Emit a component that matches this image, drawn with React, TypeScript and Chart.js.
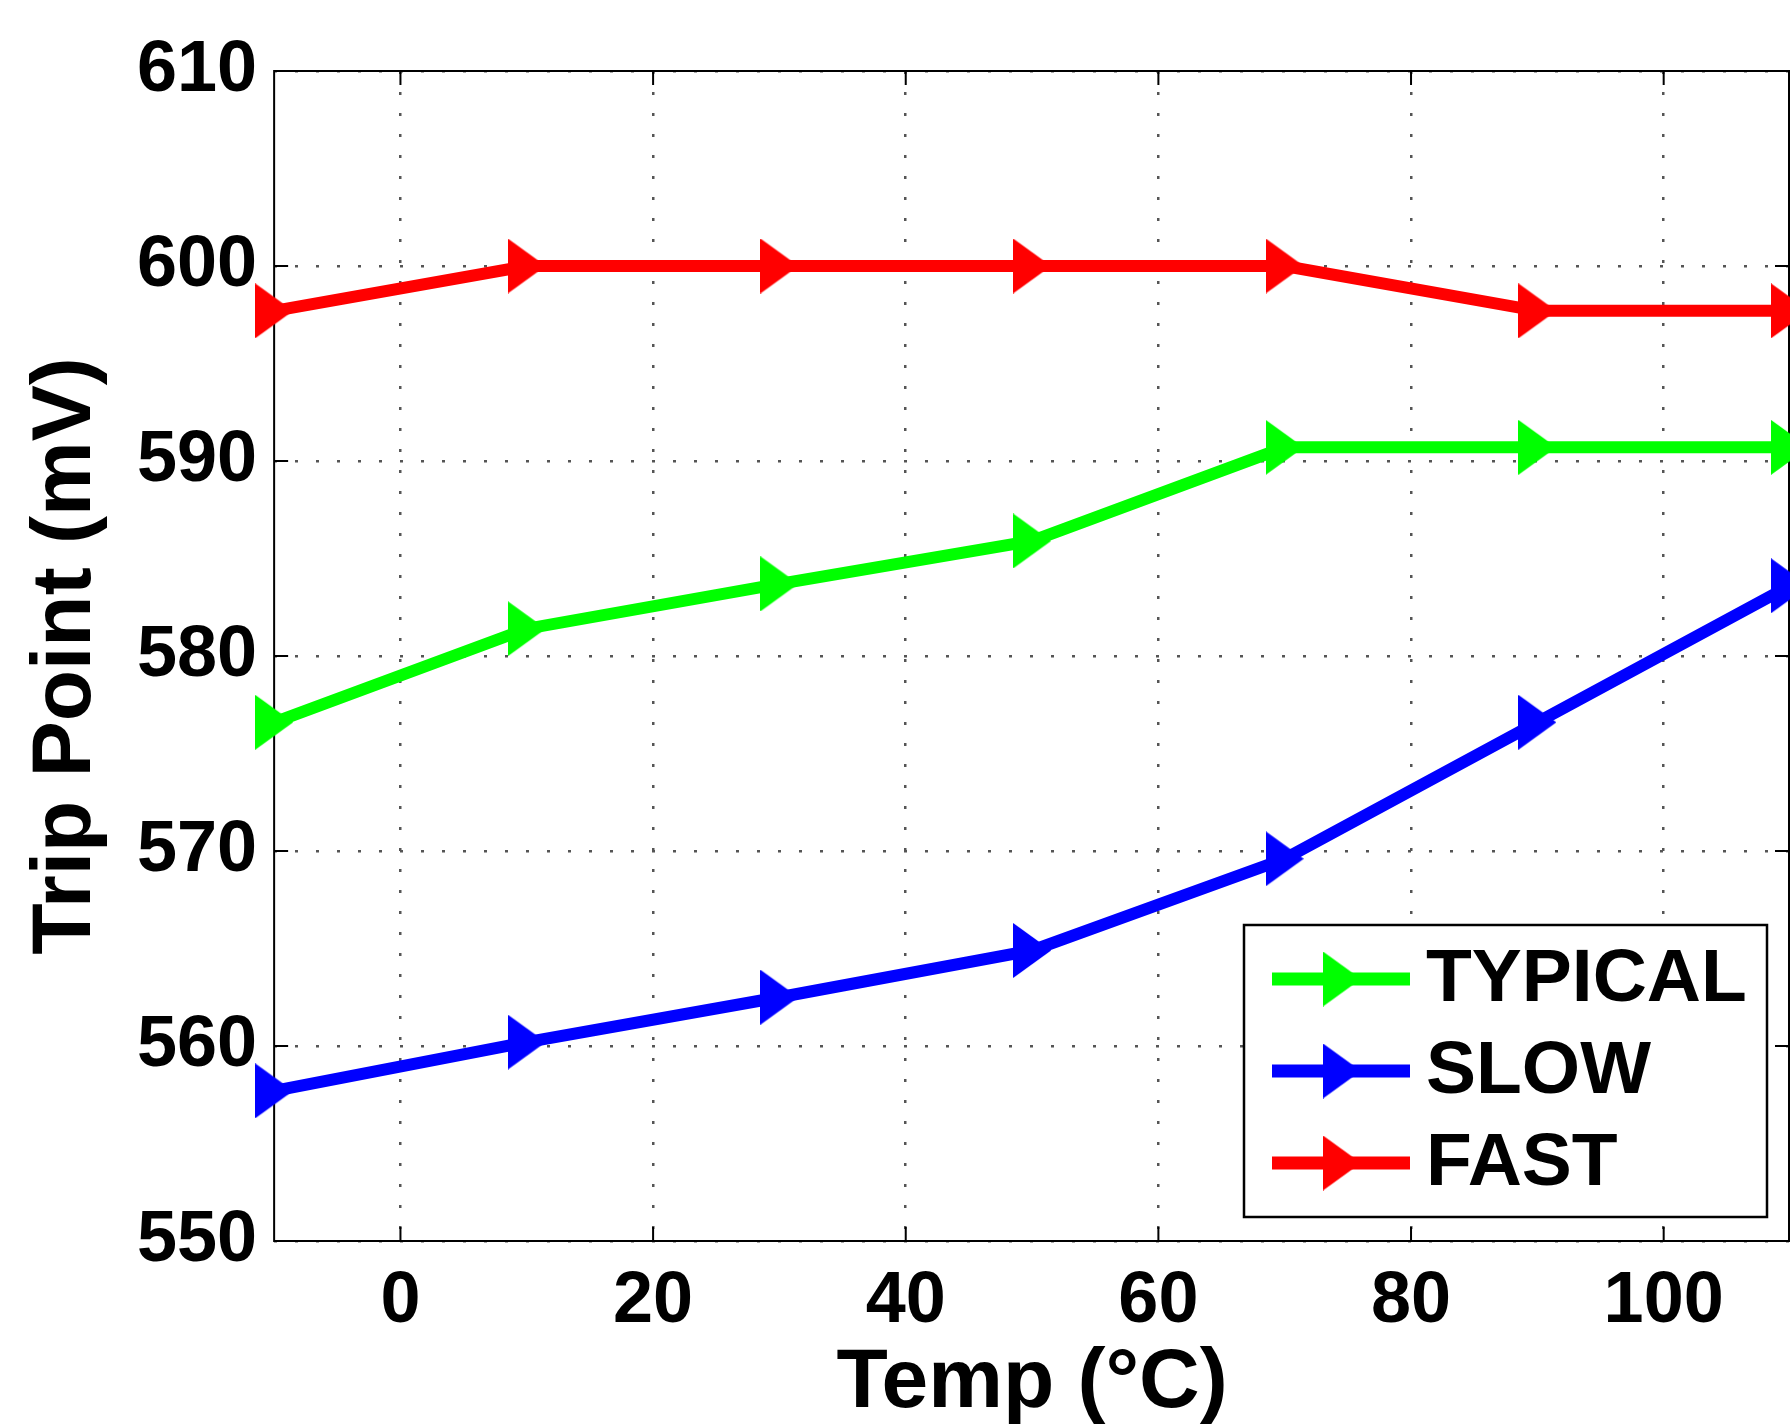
import { useEffect, useRef } from 'react';
import { Chart, registerables } from 'chart.js';

Chart.register(...registerables);

// ---- data ----
const temps = [-10, 10, 30, 50, 70, 90, 110];
const typicalMv = [576.6, 581.4, 583.7, 585.9, 590.7, 590.7, 590.7];
const slowMv = [557.7, 560.2, 562.5, 564.9, 569.6, 576.6, 583.6];
const fastMv = [597.7, 600.0, 600.0, 600.0, 600.0, 597.7, 597.7];
const seriesNames = ['TYPICAL', 'SLOW', 'FAST'];
const seriesColors = ['#00ff00', '#0000ff', '#ff0000'];
const xTickValues = [0, 20, 40, 60, 80, 100];
const yTickValues = [550, 560, 570, 580, 590, 600, 610];
const xTitle = 'Temp (\u00B0C)';
const yTitle = 'Trip Point (mV)';

const FONT = '"Liberation Sans", Arial, Helvetica, sans-serif';

function makeMarker(color: string, w = 38, h = 55): HTMLCanvasElement {
  const c = document.createElement('canvas');
  c.width = w;
  c.height = h;
  const g = c.getContext('2d')!;
  g.fillStyle = color;
  g.beginPath();
  g.moveTo(0, 0);
  g.lineTo(w, h / 2);
  g.lineTo(0, h);
  g.closePath();
  g.fill();
  return c;
}

const boxPlugin = {
  id: 'matlabBox',
  beforeDatasetsDraw(chart: any) {
    const { ctx, chartArea: a, scales } = chart;
    const right = a.right - 1;
    ctx.save();
    ctx.strokeStyle = '#000';
    ctx.lineWidth = 2;
    ctx.setLineDash([]);
    ctx.strokeRect(a.left, a.top, right - a.left, a.bottom - a.top);
    const tl = 14;
    ctx.beginPath();
    for (const v of xTickValues) {
      const px = scales.x.getPixelForValue(v);
      ctx.moveTo(px, a.bottom);
      ctx.lineTo(px, a.bottom - tl);
      ctx.moveTo(px, a.top);
      ctx.lineTo(px, a.top + tl);
    }
    for (const v of yTickValues) {
      const py = scales.y.getPixelForValue(v);
      ctx.moveTo(a.left, py);
      ctx.lineTo(a.left + tl, py);
      ctx.moveTo(right, py);
      ctx.lineTo(right - tl, py);
    }
    ctx.stroke();
    ctx.restore();
  },
};

const legendPlugin = {
  id: 'insideLegend',
  afterDraw(chart: any) {
    const { ctx, chartArea: a } = chart;
    const w = 523;
    const h = 292;
    const left = a.right - 23 - w;
    const top = a.bottom - 24 - h;
    ctx.save();
    ctx.fillStyle = '#ffffff';
    ctx.fillRect(left, top, w, h);
    ctx.strokeStyle = '#000';
    ctx.lineWidth = 2.5;
    ctx.strokeRect(left, top, w, h);
    chart.data.datasets.forEach((ds: any, i: number) => {
      const cy = top + 54 + i * 92;
      ctx.strokeStyle = ds.borderColor;
      ctx.lineWidth = 13;
      ctx.lineCap = 'butt';
      ctx.beginPath();
      ctx.moveTo(left + 28, cy);
      ctx.lineTo(left + 166, cy);
      ctx.stroke();
      const m = ds.pointStyle as HTMLCanvasElement;
      ctx.drawImage(m, left + 98 - m.width / 2, cy - m.height / 2);
      ctx.fillStyle = '#000';
      ctx.font = `bold 75px ${FONT}`;
      ctx.textAlign = 'left';
      ctx.textBaseline = 'middle';
      ctx.fillText(ds.label, left + 182, cy + 1);
    });
    ctx.restore();
  },
};

export default function App() {
  const ref = useRef<HTMLCanvasElement | null>(null);

  useEffect(() => {
    if (!ref.current) return;
    const values = [typicalMv, slowMv, fastMv];
    const datasets = seriesNames.map((name, i) => ({
      label: name,
      data: temps.map((t, j) => ({ x: t, y: values[i][j] })),
      borderColor: seriesColors[i],
      backgroundColor: seriesColors[i],
      borderWidth: 12,
      pointStyle: makeMarker(seriesColors[i]),
      pointRadius: 20,
      pointHoverRadius: 20,
      tension: 0,
      clip: false as any,
    }));

    const chart = new Chart(ref.current, {
      type: 'line',
      data: { datasets },
      plugins: [boxPlugin, legendPlugin],
      options: {
        animation: false,
        responsive: false,
        events: [],
        layout: { autoPadding: false, padding: { top: 71, left: 0, right: 0, bottom: 0 } },
        plugins: {
          legend: { display: false },
          tooltip: { enabled: false },
        },
        scales: {
          x: {
            type: 'linear',
            min: -10,
            max: 110,
            afterBuildTicks: (s: any) => {
              s.ticks = xTickValues.map((v) => ({ value: v }));
            },
            grid: {
              color: '#555',
              lineWidth: 2.5,
              drawTicks: false,
            },
            border: { display: false, dash: [3, 18] },
            ticks: {
              color: '#000',
              padding: 25,
              maxRotation: 0,
              autoSkip: false,
              font: { family: FONT, size: 72, weight: 'bold', lineHeight: 1 },
            },
            title: {
              display: true,
              text: xTitle,
              color: '#000',
              padding: { top: -21, bottom: 0 },
              font: { family: FONT, size: 84, weight: 'bold', lineHeight: 1 },
            },
          },
          y: {
            type: 'linear',
            min: 550,
            max: 610,
            afterBuildTicks: (s: any) => {
              s.ticks = yTickValues.map((v) => ({ value: v }));
            },
            grid: {
              color: '#555',
              lineWidth: 2.5,
              drawTicks: false,
            },
            border: { display: false, dash: [3, 18] },
            ticks: {
              color: '#000',
              padding: 17,
              autoSkip: false,
              font: { family: FONT, size: 72, weight: 'bold', lineHeight: 1 },
            },
            title: {
              display: true,
              text: yTitle,
              color: '#000',
              padding: { top: 25, bottom: 11 },
              font: { family: FONT, size: 84, weight: 'bold', lineHeight: 1 },
            },
          },
        },
      } as any,
    });
    return () => chart.destroy();
  }, []);

  return (
    <div style={{ position: 'absolute', left: 0, top: 0, width: 1790, height: 1426, background: '#fff' }}>
      <canvas ref={ref} width={1790} height={1426} style={{ display: 'block' }} />
    </div>
  );
}
